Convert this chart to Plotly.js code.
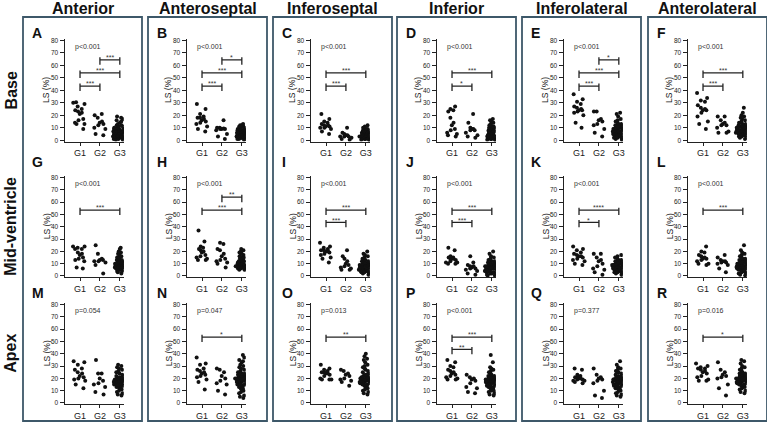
<!DOCTYPE html>
<html><head><meta charset="utf-8">
<script src="https://cdn.plot.ly/plotly-3.0.1.min.js"></script>
<style>html,body{margin:0;padding:0;background:#fff;}#chart{width:767px;height:423px;}</style>
</head><body><div id="chart"></div>
<script>
// ---------- labels ----------
const regions = ['Anterior','Anteroseptal','Inferoseptal','Inferior','Inferolateral','Anterolateral'];
const levels = ['Base','Mid-ventricle','Apex'];
const groups = ['G1','G2','G3'];
const panelLetters = ['A','B','C','D','E','F','G','H','I','J','K','L','M','N','O','P','Q','R'];
const pTexts = ['p<0.001','p<0.001','p<0.001','p<0.001','p<0.001','p<0.001',
                'p<0.001','p<0.001','p<0.001','p<0.001','p<0.001','p<0.001',
                'p=0.054','p=0.047','p=0.013','p<0.001','p=0.377','p=0.016'];
const yTicks = [0,10,20,30,40,50,60,70,80];
const yTitle = 'LS (%)';

// ---------- values (LS %) ----------
const A_G1 = [30.5,30,29,27,25,24,23,22,21,17,16,14,13,13,9];
const A_G2 = [21,20,18,15,14,13,12,10,9,5,4];
const A_G3 = [19,18,17,16,15,14,13,12,12,11,11,10,10,10,9,9,9,9,8,8,8,8,7,7,7,7,7,6,6,6,6,6,5,5,5,5,5,4,4,4,4,4,3,3,3,3,3,2,2,2,2,1,1,1,0.5,0.5];
const B_G1 = [29,25,21,19,18,18,17,16,15,14,13,11,9,7];
const B_G2 = [16,10,10,9.5,9,9,9,8,5,3,1];
const B_G3 = [13,12,12,11,11,10,10,9,9,9,8,8,8,8,7,7,7,7,7,6,6,6,6,6,6,5,5,5,5,5,5,4,4,4,4,4,4,3,3,3,3,3,3,2,2,2,2,2,1,1,1,0.5];
const C_G1 = [21,17,15,14,13,12,12,11,11,10,10,9,7,5];
const C_G2 = [10,6,5,4,4,3,3,3,2,1,0.5];
const C_G3 = [12,11,10,10,9,9,8,8,8,7,7,7,6,6,6,6,5,5,5,5,5,4,4,4,4,4,4,3,3,3,3,3,3,2,2,2,2,2,2,1,1,1,1,0.5,0.5,0.5];
const D_G1 = [27,25,24,23,18,14,12,9,8,6,5,4,3];
const D_G2 = [21,14,10,9,9,8,8,6,4,3,2];
const D_G3 = [17,16,15,14,13,12,12,11,11,10,10,10,9,9,9,8,8,8,7,7,7,6,6,6,5,5,5,5,4,4,4,4,3,3,3,3,3,2,2,2,2,2,1,1,1,1,0.5,0.5,0.5];
const E_G1 = [37,33,31,29,27,26,25,24,24,23,22,20,14,10];
const E_G2 = [23,23,17,16,15,13,12,9,6,3];
const E_G3 = [22,21,19,17,16,15,14,13,13,12,12,11,11,10,10,10,9,9,9,9,8,8,8,8,7,7,7,7,6,6,6,6,5,5,5,5,4,4,4,4,3,3,3,2,2,2,1,1,0.5];
const F_G1 = [38,34,32,31,28,26,25,24,24,22,19,15,13,9];
const F_G2 = [19,19,16,14,13,12,12,10,7,6,6];
const F_G3 = [26,22,20,19,18,17,16,15,14,14,13,13,12,12,12,11,11,11,10,10,10,10,9,9,9,9,8,8,8,8,8,7,7,7,7,7,6,6,6,6,5,5,5,5,4,4,4,3,3,2,2,1];
const G_G1 = [24,24,23,22,22,19,18,17,15,14,13,12,7,6];
const G_G2 = [25,18,14,13,13,12,12,11,9,2];
const G_G3 = [23,22,20,19,18,17,16,15,15,14,14,13,13,12,12,12,11,11,11,11,10,10,10,10,10,9,9,9,9,9,8,8,8,8,8,8,7,7,7,7,7,6,6,6,6,5,5,5,4,4,3,2];
const H_G1 = [37,28,24,23,22,21,20,19,17,16,15,14,13,13];
const H_G2 = [27,26,22,21,18,16,14,13,12,11,10,7];
const H_G3 = [22,21,20,19,18,18,17,16,15,15,14,14,13,13,12,12,12,11,11,11,10,10,10,10,9,9,9,9,9,8,8,8,8,8,8,7,7,7,7,7,7,6,6,6,6,5,5];
const I_G1 = [27,24,23,22,21,21,20,20,19,18,17,15,14,11];
const I_G2 = [21,16,14,12,10,9,8,7,6,5,5];
const I_G3 = [20,18,17,16,15,14,13,13,12,12,11,11,10,10,10,9,9,9,9,8,8,8,8,8,7,7,7,7,7,6,6,6,6,6,5,5,5,5,5,4,4,4,4,3,3,3,2,2,1];
const J_G1 = [23,21,16,15,15,14,14,14,13,12,11,11,10,10];
const J_G2 = [16,11,9,8,8,7,6,6,5,4,2,1];
const J_G3 = [20,18,16,15,14,13,13,12,12,11,11,10,10,10,9,9,9,8,8,8,8,7,7,7,7,6,6,6,6,6,5,5,5,5,4,4,4,4,3,3,3,3,2,2,2,1,1,0.5,0.5];
const K_G1 = [24,22,21,19,18,17,16,16,15,14,13,12,10,9];
const K_G2 = [18,18,15,13,12,10,8,6,5,3,1];
const K_G3 = [17,16,15,14,13,13,12,12,11,11,10,10,10,10,9,9,9,9,9,8,8,8,8,8,7,7,7,7,7,6,6,6,6,5,5,5,5,4,4,4,3,3,3,2,2,1];
const L_G1 = [24,20,19,17,16,15,14,14,13,12,10,10,9];
const L_G2 = [17,15,13,12,12,11,11,10,9,6,3];
const L_G3 = [25,21,19,18,17,16,15,14,14,13,13,12,12,11,11,11,10,10,10,10,9,9,9,9,8,8,8,8,8,7,7,7,7,6,6,6,6,5,5,5,4,4,4,3,3,2,2,1,0.5];
const M_G1 = [34,33,31,28,27,25,24,22,21,20,19,18,15,12];
const M_G2 = [35,24,24,20,18,16,15,13,9,7];
const M_G3 = [31,30,29,28,27,26,25,25,24,23,22,22,21,21,20,20,20,19,19,19,18,18,18,18,17,17,17,17,16,16,16,16,16,15,15,15,15,14,14,14,13,13,12,12,11,10,9,8,7,6];
const N_G1 = [37,32,31,28,27,26,25,24,23,22,21,19,17,11];
const N_G2 = [28,27,25,22,20,18,16,15,10,7];
const N_G3 = [39,37,35,34,33,31,30,29,28,27,26,25,25,24,24,23,23,22,22,22,21,21,21,20,20,20,20,19,19,19,19,18,18,18,18,17,17,17,16,16,16,15,15,14,14,13,12,12,11,10,9,8,6,5,4];
const O_G1 = [31,28,27,26,25,25,24,24,23,22,20,19,19,19];
const O_G2 = [27,26,24,23,22,20,19,18,17,14];
const O_G3 = [40,38,36,35,33,31,30,29,28,27,26,25,24,23,23,22,22,21,21,21,20,20,20,19,19,19,19,18,18,18,18,18,17,17,17,17,16,16,16,15,15,15,14,14,13,12,11,10,9,8,7];
const P_G1 = [35,33,30,29,27,26,25,24,23,22,21,20,19,19];
const P_G2 = [23,21,20,19,18,16,13,12,9,8];
const P_G3 = [39,33,29,28,27,26,25,24,23,22,22,21,21,20,20,20,19,19,19,19,18,18,18,18,18,17,17,17,17,16,16,16,16,15,15,15,14,14,14,13,13,12,12,11,10,10,9,8,7,6];
const Q_G1 = [28,27,23,22,21,21,20,20,19,19,18,18,17,16];
const Q_G2 = [28,23,21,20,19,18,16,10,6,4];
const Q_G3 = [34,31,29,28,27,26,25,25,24,23,22,22,21,21,20,20,20,19,19,19,18,18,18,17,17,17,17,16,16,16,16,15,15,15,14,14,14,13,13,12,12,11,11,10,9,8,7,6,5];
const R_G1 = [32,30,29,28,28,27,26,25,24,22,21,19,18,18];
const R_G2 = [33,27,25,23,22,21,20,15,12,6];
const R_G3 = [35,34,32,30,29,28,27,26,25,24,24,23,23,22,22,21,21,21,20,20,20,20,19,19,19,19,18,18,18,18,18,17,17,17,17,16,16,16,15,15,15,14,14,13,13,12,11,10,9,8];

// ---------- significance comparisons: [from, to, level, stars] ----------
const sigA = [['G2','G3',64.5,'***'],['G1','G3',54,'***'],['G1','G2',43.5,'***']];
const sigB = [['G2','G3',64.5,'*'],['G1','G3',54,'***'],['G1','G2',43.5,'***']];
const sigC = [['G1','G3',54,'***'],['G1','G2',43.5,'***']];
const sigD = [['G1','G3',54,'***'],['G1','G2',43.5,'*']];
const sigE = [['G2','G3',64.5,'*'],['G1','G3',54,'***'],['G1','G2',43.5,'***']];
const sigF = [['G1','G3',54,'***'],['G1','G2',43.5,'***']];
const sigG = [['G1','G3',53.5,'***']];
const sigH = [['G2','G3',64,'**'],['G1','G3',53.5,'***']];
const sigI = [['G1','G3',53.5,'***'],['G1','G2',43.5,'***']];
const sigJ = [['G1','G3',53.5,'***'],['G1','G2',43.5,'***']];
const sigK = [['G1','G3',53.5,'****'],['G1','G2',43.5,'*']];
const sigL = [['G1','G3',53.5,'***']];
const sigM = [];
const sigN = [['G1','G3',53.5,'*']];
const sigO = [['G1','G3',53.5,'**']];
const sigP = [['G1','G3',53.5,'***'],['G1','G2',43.5,'**']];
const sigQ = [];
const sigR = [['G1','G3',53.5,'*']];

// ---------- assemble ----------
const panelValues = [
  [A_G1,A_G2,A_G3],[B_G1,B_G2,B_G3],[C_G1,C_G2,C_G3],[D_G1,D_G2,D_G3],[E_G1,E_G2,E_G3],[F_G1,F_G2,F_G3],
  [G_G1,G_G2,G_G3],[H_G1,H_G2,H_G3],[I_G1,I_G2,I_G3],[J_G1,J_G2,J_G3],[K_G1,K_G2,K_G3],[L_G1,L_G2,L_G3],
  [M_G1,M_G2,M_G3],[N_G1,N_G2,N_G3],[O_G1,O_G2,O_G3],[P_G1,P_G2,P_G3],[Q_G1,Q_G2,Q_G3],[R_G1,R_G2,R_G3]];
const panelSig = [sigA,sigB,sigC,sigD,sigE,sigF,sigG,sigH,sigI,sigJ,sigK,sigL,sigM,sigN,sigO,sigP,sigQ,sigR];

// ---------- geometry (pixels) ----------
const W = 767, H = 423;
const FONT = 'Liberation Sans, Arial, sans-serif';
const colAxisPx = [64.5,186.5,310.5,436.5,563.5,687.5];
const axisWpx = 59.3;
const rowPx = [[40.5,140.3],[177.5,276],[304.5,403]]; // [pixel of 80, pixel of 0]
const boxLeftPx = [23,148,273,397,522,648];
const boxWpx = 119, boxTopPx = 17, boxBotPx = 421;
const letterYPx = [33,162,293];
const yRange = [-1,81], xRange = [-0.78,2.2];
const px = v => v / W, py = v => 1 - v / H;

const data = [];
const layout = {
  width: W, height: H, margin: {l:0,r:0,t:0,b:0},
  paper_bgcolor: '#fff', plot_bgcolor: 'rgba(0,0,0,0)',
  font: {family: FONT, color: '#222'},
  showlegend: false, shapes: [], annotations: []
};

// column boxes and titles
regions.forEach((name, c) => {
  layout.shapes.push({type:'rect', xref:'paper', yref:'paper',
    x0: px(boxLeftPx[c]), x1: px(boxLeftPx[c] + boxWpx), y0: py(boxBotPx), y1: py(boxTopPx),
    line: {color:'#3d5869', width:1.8}, layer:'below'});
  layout.annotations.push({xref:'paper', yref:'paper', x: px(boxLeftPx[c] + boxWpx/2), y: py(8),
    text: '<b>' + name + '</b>', showarrow:false, xanchor:'center', yanchor:'middle',
    font: {size:16, color:'#111', family: FONT}});
});
// row labels
levels.forEach((name, r) => {
  const yc = (rowPx[r][0] + rowPx[r][1]) / 2;
  layout.annotations.push({xref:'paper', yref:'paper', x: px(11), y: py(yc), textangle:-90,
    text: '<b>' + name + '</b>', showarrow:false, xanchor:'center', yanchor:'middle',
    font: {size:16, color:'#111', family: FONT}});
});

for (let p = 0; p < 18; p++) {
  const r = Math.floor(p / 6), c = p % 6, n = p + 1;
  const xa = 'xaxis' + (n === 1 ? '' : n), ya = 'yaxis' + (n === 1 ? '' : n);
  const xr = 'x' + (n === 1 ? '' : n), yr = 'y' + (n === 1 ? '' : n);
  const ppu = (rowPx[r][1] - rowPx[r][0]) / 80;
  const yTopPx = rowPx[r][0] - (yRange[1] - 80) * ppu;
  const yBotPx = rowPx[r][1] - (yRange[0]) * ppu;
  layout[xa] = {domain: [px(colAxisPx[c]), px(colAxisPx[c] + axisWpx)], anchor: yr,
    type:'category', categoryorder:'array', categoryarray: groups, range: xRange,
    showline:true, linecolor:'#222', linewidth:1, ticks:'outside', ticklen:3, tickwidth:1, tickcolor:'#222',
    showgrid:false, zeroline:false, tickfont:{size:9, color:'#1a1a1a', family: FONT}, fixedrange:true};
  layout[ya] = {domain: [py(yBotPx), py(yTopPx)], anchor: xr, range: yRange,
    tickvals: yTicks, ticktext: yTicks.map(String),
    showline:true, linecolor:'#222', linewidth:1, ticks:'outside', ticklen:4, tickwidth:1, tickcolor:'#222',
    showgrid:false, zeroline:false, tickfont:{size:6.5, color:'#1a1a1a', family: FONT}, fixedrange:true};

  groups.forEach((g, gi) => {
    const vals = panelValues[p][gi];
    data.push({type:'box', x: vals.map(() => g), y: vals, xaxis: xr, yaxis: yr, name: g,
      boxpoints:'all', jitter:1, pointpos:0, width:0.72,
      fillcolor:'rgba(0,0,0,0)', line:{color:'rgba(0,0,0,0)', width:0},
      marker:{color:'#111', size:4}, hoverinfo:'skip', showlegend:false});
  });

  // panel letter
  layout.annotations.push({xref:'paper', yref:'paper', x: px(boxLeftPx[c] + 7), y: py(letterYPx[r]),
    text:'<b>' + panelLetters[p] + '</b>', showarrow:false, xanchor:'left', yanchor:'middle',
    font:{size:14, color:'#111', family: FONT}});
  // y title
  layout.annotations.push({xref:'paper', yref:yr, x: px(colAxisPx[c] - 18), y: 40, textangle:-90,
    text: yTitle, showarrow:false, xanchor:'center', yanchor:'middle',
    font:{size:8.5, color:'#1a1a1a', family: FONT}});
  // p value
  layout.annotations.push({xref: xr + ' domain', yref: yr, x: 0.14, y: 75,
    text: pTexts[p], showarrow:false, xanchor:'left', yanchor:'middle',
    font:{size:7, color:'#333', family: FONT}});
  // significance brackets
  panelSig[p].forEach(s => {
    const a = groups.indexOf(s[0]), b = groups.indexOf(s[1]), lv = s[2];
    const ln = {color:'#222', width:1.3};
    layout.shapes.push({type:'line', xref:xr, yref:yr, x0:a, x1:b, y0:lv, y1:lv, line:ln});
    layout.shapes.push({type:'line', xref:xr, yref:yr, x0:a, x1:a, y0:lv+2, y1:lv-4, line:ln});
    layout.shapes.push({type:'line', xref:xr, yref:yr, x0:b, x1:b, y0:lv+2, y1:lv-4, line:ln});
    layout.annotations.push({xref:xr, yref:yr, x:(a+b)/2, y: lv + 1.8, text: s[3], showarrow:false,
      xanchor:'center', yanchor:'middle', font:{size:7, color:'#333', family: FONT}});
  });
}

Plotly.newPlot('chart', data, layout, {staticPlot:true, displayModeBar:false});
</script>
</body></html>
